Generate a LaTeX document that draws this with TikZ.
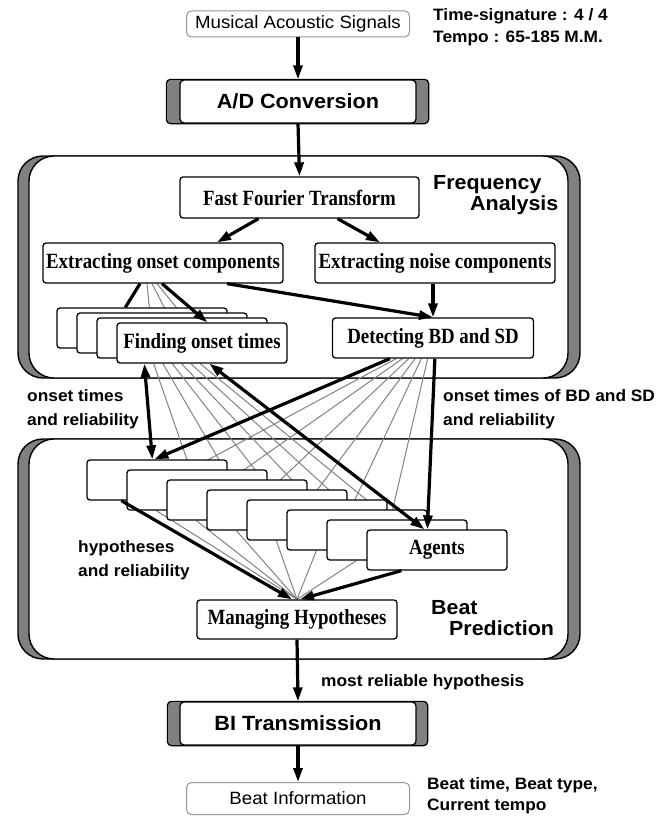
\documentclass[tikz,border=0pt]{standalone}
\usepackage{fontspec}
\newfontfamily\labelfont[FakeStretch=1.05]{Liberation Sans}
\newfontfamily\boxfont[FakeStretch=0.87]{Liberation Serif}
\usetikzlibrary{arrows.meta,calc}

\pgfdeclarelayer{frame}
\pgfdeclarelayer{fan}
\pgfsetlayers{frame,fan,main}

\definecolor{bargray}{RGB}{128,128,128}
\definecolor{fangray}{RGB}{130,130,130}
\definecolor{iogray}{RGB}{150,150,150}

\tikzset{
  iobox/.style={draw=iogray, line width=1pt, fill=white, rounded corners=5pt,
    minimum width=223pt, inner sep=0pt,
    font=\labelfont\fontsize{17.8}{18}\selectfont},
  procbox/.style={draw, line width=1.3pt, fill=white, rounded corners=4pt,
    minimum width=236pt, minimum height=43pt, inner sep=0pt,
    font=\labelfont\bfseries\fontsize{20.6}{21}\selectfont},
  barbox/.style={draw, line width=1.2pt, fill=bargray, rounded corners=4pt},
  stepbox/.style={draw, line width=1.3pt, fill=white, rounded corners=3pt,
    minimum height=40pt, inner sep=0pt,
    font=\boxfont\bfseries\fontsize{21.7}{22}\selectfont},
  framebar/.style={draw, line width=1.4pt, fill=bargray, rounded corners=25pt},
  framebody/.style={draw, line width=1.4pt, fill=white, rounded corners=25pt},
  lbl/.style={anchor=west, align=left, inner sep=0pt,
    font=\labelfont\bfseries\fontsize{16.5}{24}\selectfont},
  titlelbl/.style={anchor=west, align=left, inner sep=0pt,
    font=\labelfont\bfseries\fontsize{20.4}{21}\selectfont},
  flow/.style={line width=3.2pt, -{Triangle[length=14pt,width=9pt]}},
  flowboth/.style={line width=3.2pt,
    {Triangle[length=14pt,width=9pt]}-{Triangle[length=14pt,width=9pt]}},
  flowline/.style={line width=3.2pt},
  fan/.style={draw=fangray, line width=1pt}
}

\begin{document}
\begin{tikzpicture}[x=1pt,y=-1pt]
    \useasboundingbox (0,0) rectangle (671,816);

    % the two big blocks
    \begin{pgfonlayer}{frame}
      \draw[framebar]  (18,156) rectangle (580,378);
      \draw[framebody] (29,156) rectangle (568,378);
      \draw[framebar]  (18,439) rectangle (580,659);
      \draw[framebody] (29,439) rectangle (568,659);
    \end{pgfonlayer}

    \node[iobox, minimum height=26pt] (music) at (298,24) {Musical Acoustic Signals};
    \node[procbox] (adconv) at (298,101.5) {A/D Conversion};
    \node[procbox] (bitrans) at (298,723.5) {BI Transmission};
    \node[iobox, minimum height=32pt] (beatinfo) at (298,798.5) {Beat Information};

    \begin{pgfonlayer}{frame}
      \draw[barbox] ([xshift=-13pt]adconv.south west) rectangle ([xshift=12pt]adconv.north east);
      \draw[barbox] ([xshift=-12pt]bitrans.south west) rectangle ([xshift=11pt]bitrans.north east);
    \end{pgfonlayer}

    % frequency analysis
    \node[stepbox, minimum width=239pt, minimum height=41pt] (fft) at (299.5,197.5) {Fast Fourier Transform};
    \node[stepbox, minimum width=240pt] (eonset) at (163,263) {Extracting onset components};
    \node[stepbox, minimum width=240pt] (enoise) at (435,263) {Extracting noise components};
    \node[stepbox, minimum width=201pt] (detect) at (433,338) {Detecting BD and SD};
    \foreach \i in {0,...,2}{% boxes behind the front one
      \node[stepbox, minimum width=170pt] (find\i) at (142+20*\i,328+5*\i) {};
    }
    \node[stepbox, minimum width=170pt] (find3) at (202,343) {Finding onset times};

    % beat prediction
    \foreach \i in {0,...,6}{% agents stacked to the lower right
      \node[stepbox, minimum width=140pt] (agent\i) at (157+40*\i,480+10*\i) {};
    }
    \node[stepbox, minimum width=140pt] (agent7) at (437,550) {Agents};
    \node[stepbox, minimum width=200pt, minimum height=39pt] (manage) at (297,619.5) {Managing Hypotheses};

    % thin connections, behind the boxes
    \begin{pgfonlayer}{fan}
      \foreach \i in {0,...,2}
        \draw[fan] ($(eonset.south)+(-16+5*\i,0)$) -- ($(find\i.north west)+(93-2.5*\i,0)$);
      \foreach \i in {1,...,6}{%
        \draw[fan] ($(find3.south west)+(28+9.3*\i,0)$) -- ($(agent\i.north west)+(64,0)$);
        \draw[fan] ($(detect.south west)+(58+6.3*\i,0)$) -- ($(agent\i.north west)+(64,0)$);
        \draw[fan] ($(agent\i.south west)+(30,0)$) -- (manage.north);
      }
    \end{pgfonlayer}

    % main flow
    \draw[flow] (music.south) -- (adconv.north);
    \draw[flow] (adconv.south) -- (fft.north);
    \draw[flow] ($(fft.south)+(-41,0)$) -- ($(eonset.north)+(54,0)$);
    \draw[flow] ($(fft.south)+(38,0)$) -- ($(enoise.north)+(-55,0)$);
    \draw[flow] ($(eonset.south)+(64,0)$) -- (detect.north);
    \draw[flow] (enoise.south -| detect.north) -- (detect.north);
    \draw[flowline] ($(eonset.south)+(-23,0)$) -- ($(find0.north west)+(69,0)$);
    \draw[flow] ($(eonset.south)+(-1,0)$) -- ($(find3.north west)+(91,0)$);

    \draw[flowboth] ($(find3.south west)+(28,0)$) -- ($(agent0.north west)+(66,0)$);
    \draw[flowboth] ($(find3.south west)+(93,0)$) -- ($(agent7.north west)+(58,0)$);
    \draw[flow] ($(detect.south west)+(58,0)$) -- ($(agent0.north west)+(68,0)$);
    \draw[flow] ($(detect.south west)+(103,0)$) -- ($(agent7.north west)+(61,0)$);

    \draw[flow] ($(agent0.south west)+(35,0)$) -- ($(manage.north)+(-5,0)$);
    \draw[flow] ($(agent7.south west)+(35,0)$) -- ($(manage.north)+(3,0)$);
    \draw[flow] (manage.south) -- (bitrans.north);
    \draw[flow] (bitrans.south) -- (beatinfo.north);

    % labels
    \node[lbl, font=\labelfont\bfseries\fontsize{16.5}{22}\selectfont] (tsig) at (433,27) {Time-signature : 4 / 4\\Tempo : 65-185 M.M.};
    \node[titlelbl] (freqlbl) at (433,195) {Frequency\\\hspace*{37pt}Analysis};
    \node[lbl] (onsetlbl) at (27,409.5) {onset times\\and reliability};
    \node[lbl] (bdsdlbl) at (443,409.5) {onset times of BD and SD\\and reliability};
    \node[lbl] (hyplbl) at (78,560) {hypotheses\\and reliability};
    \node[titlelbl] (beatlbl) at (431,618) {Beat\\\hspace*{18pt}Prediction};
    \node[lbl] (bestlbl) at (321,682) {most reliable hypothesis};
    \node[lbl, font=\labelfont\bfseries\fontsize{16.5}{21}\selectfont] (infolbl) at (427,796) {Beat time, Beat type,\\Current tempo};
\end{tikzpicture}
\end{document}
